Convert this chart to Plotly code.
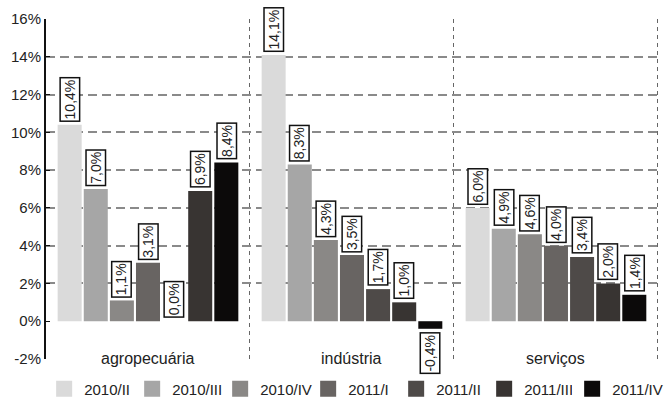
import plotly.graph_objects as go

categories = ["agropecuária", "indústria", "serviços"]
periods = ["2010/II", "2010/III", "2010/IV", "2011/I", "2011/II", "2011/III", "2011/IV"]
agro = [10.4, 7.0, 1.1, 3.1, 0.0, 6.9, 8.4]
industria = [14.1, 8.3, 4.3, 3.5, 1.7, 1.0, -0.4]
servicos = [6.0, 4.9, 4.6, 4.0, 3.4, 2.0, 1.4]
colors = ["#dadada", "#a6a6a6", "#8a8886", "#686462", "#4e4a48", "#383432", "#0c0a0a"]
y_ticks = [-2, 0, 2, 4, 6, 8, 10, 12, 14, 16]
grid_ticks = [2, 4, 6, 8, 10, 12, 14, 16]

series = [[agro[i], industria[i], servicos[i]] for i in range(len(periods))]
xpos = list(range(len(categories)))

BARGAP = 0.104
GROUPGAP = 0.08
slot = (1 - BARGAP) / len(periods)
FONT = "Liberation Sans, Arial, sans-serif"

W, H = 666, 407
ML, MR, MT, MB = 46, 6, 19, 48
plot_w = W - ML - MR
ENTRY_W = 43
ITEM_STEP = ENTRY_W + 45
LEG_X0 = -0.003

fig = go.Figure()
for i, p in enumerate(periods):
    fig.add_trace(go.Bar(x=xpos, y=series[i], name=p, marker_color=colors[i],
                         marker_line_width=0, showlegend=False))
    fig.add_trace(go.Scatter(x=[None], y=[None], mode="markers", name=p,
                             marker=dict(symbol="square", size=16, color=colors[i]),
                             yaxis="y2", showlegend=True,
                             legend="legend" if i < len(periods) - 1 else "legend2"))

annotations = []
mid = (len(periods) - 1) / 2
for i in range(len(periods)):
    for g, v in enumerate(series[i]):
        txt = f"{v:.1f}".replace(".", ",") + "%"
        annotations.append(dict(
            x=g + (i - mid) * slot, y=v, xref="x", yref="y", text=txt,
            showarrow=False, textangle=-90,
            yanchor="bottom" if v >= 0 else "top",
            yshift=3 if v >= 0 else -3,
            bgcolor="white", bordercolor="#111", borderwidth=1.5, borderpad=1,
            font=dict(family=FONT, size=14, color="#222")))
for g, c in enumerate(categories):
    annotations.append(dict(x=g, y=-2, xref="x", yref="y", text=c, showarrow=False,
                            yanchor="middle", yshift=1,
                            font=dict(family=FONT, size=16, color="#222")))

leg_common = dict(orientation="h", xanchor="left", y=-0.088, yanchor="middle",
                  font=dict(family=FONT, size=15, color="#222"), itemwidth=30,
                  tracegroupgap=0, bgcolor="rgba(0,0,0,0)")

fig.update_layout(
    width=W, height=H,
    margin=dict(l=ML, r=MR, t=MT, b=MB, autoexpand=False),
    paper_bgcolor="white", plot_bgcolor="white",
    barmode="group", bargap=BARGAP, bargroupgap=GROUPGAP,
    font=dict(family=FONT, size=15, color="#222"),
    xaxis=dict(range=[-0.5, 2.51], tickvals=[0.5, 1.5, 2.5], ticktext=["", "", ""],
               showgrid=True, gridcolor="#666", griddash="4px,4px", gridwidth=1,
               zeroline=False, showline=False, ticks=""),
    yaxis=dict(range=[-2, 16], tickvals=y_ticks, ticktext=[f"{t}%" for t in y_ticks],
               showgrid=False, zeroline=False, showline=True, linecolor="#111",
               linewidth=2, ticks="inside", ticklen=4, tickcolor="#111", tickwidth=1,
               ticklabelstandoff=0,
               tickfont=dict(family=FONT, size=15, color="#222")),
    yaxis2=dict(range=[-2, 16], overlaying="y", tickvals=grid_ticks, showticklabels=False,
                showgrid=True, gridcolor="#8a8a8a", griddash="9px,5px", gridwidth=2,
                zeroline=False, showline=False, ticks=""),
    legend=dict(x=LEG_X0, entrywidth=ENTRY_W, **leg_common),
    legend2=dict(x=LEG_X0 + (len(periods) - 1) * ITEM_STEP / plot_w, **leg_common),
    annotations=annotations,
)

fig.write_html("out.html", post_script="document.body.style.margin='0';",
               config={"displayModeBar": False})
